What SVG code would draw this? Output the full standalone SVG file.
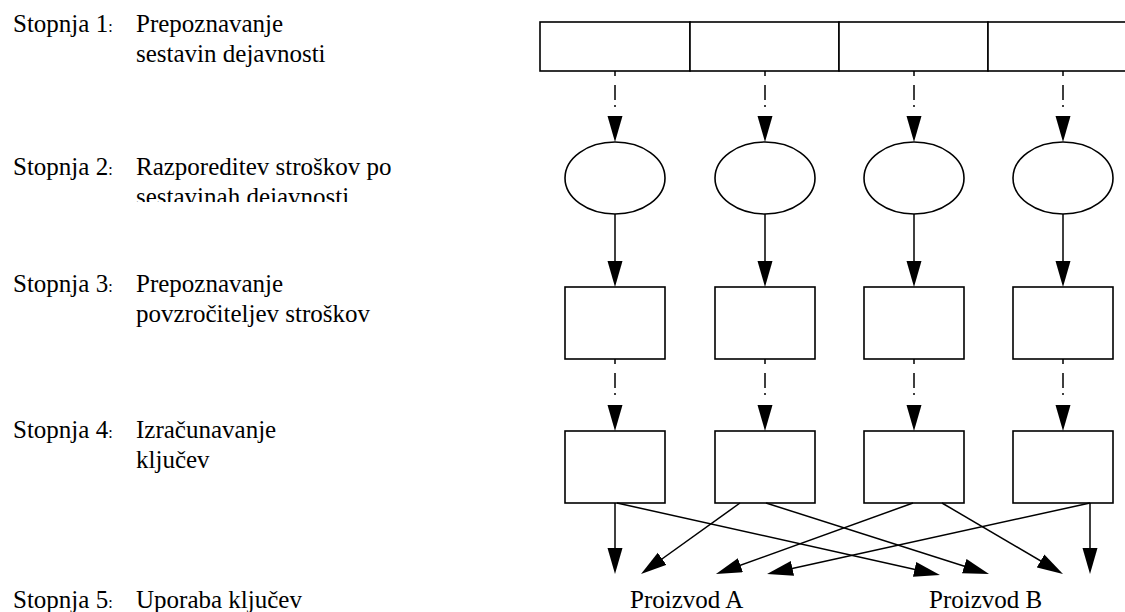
<svg xmlns="http://www.w3.org/2000/svg" width="1125" height="612" viewBox="0 0 1125 612">
<defs>
<style>
text{font-family:"Liberation Serif",Tinos,"Times New Roman",Times,serif;font-size:25px;fill:#000}
.c{font-size:16px}
.n{fill:#fff;stroke:#000;stroke-width:1.6}
.e{stroke:#000;stroke-width:1.5;fill:none}
.dd{stroke-dasharray:5 9 15 5 2 100}
</style>
<marker id="ah" markerUnits="userSpaceOnUse" markerWidth="28" markerHeight="16" refX="20" refY="7.5" orient="auto" viewBox="0 0 28 16">
<path d="M0,0 L26,7.5 L0,15 z" fill="#000"/>
</marker>
<clipPath id="clip2"><rect x="0" y="150" width="500" height="52"/></clipPath>
</defs>
<rect width="1125" height="612" fill="#fff"/>
<g id="labels" font-family="Liberation Serif, Tinos, Times New Roman, serif" font-size="25">
<text x="13" y="32">Stopnja 1<tspan class="c">:</tspan></text>
<text x="136" y="32">Prepoznavanje</text>
<text x="136" y="62">sestavin dejavnosti</text>
<text x="13" y="175">Stopnja 2<tspan class="c">:</tspan></text>
<g clip-path="url(#clip2)">
<text x="136" y="175">Razporeditev stroškov po</text>
<text x="136" y="205">sestavinah dejavnosti</text>
</g>
<text x="13" y="292">Stopnja 3<tspan class="c">:</tspan></text>
<text x="136" y="292">Prepoznavanje</text>
<text x="136" y="322">povzročiteljev stroškov</text>
<text x="13" y="438">Stopnja 4<tspan class="c">:</tspan></text>
<text x="136" y="438">Izračunavanje</text>
<text x="136" y="468">ključev</text>
<text x="13" y="608">Stopnja 5<tspan class="c">:</tspan></text>
<text x="136" y="608">Uporaba ključev</text>
</g>
<g id="activities">
<rect class="n" x="540" y="22" width="150" height="49"/>
<rect class="n" x="690" y="22" width="149" height="49"/>
<rect class="n" x="839" y="22" width="149" height="49"/>
<rect class="n" x="988" y="22" width="150" height="49"/>
</g>
<g id="pools">
<ellipse class="n" cx="615" cy="178" rx="50" ry="36"/>
<ellipse class="n" cx="765" cy="178" rx="50" ry="36"/>
<ellipse class="n" cx="914" cy="178" rx="50" ry="36"/>
<ellipse class="n" cx="1063" cy="178" rx="50" ry="36"/>
</g>
<g id="drivers">
<rect class="n" x="565" y="287" width="100" height="72"/>
<rect class="n" x="715" y="287" width="100" height="72"/>
<rect class="n" x="864" y="287" width="100" height="72"/>
<rect class="n" x="1013" y="287" width="100" height="72"/>
</g>
<g id="keys">
<rect class="n" x="565" y="431" width="100" height="72"/>
<rect class="n" x="715" y="431" width="100" height="72"/>
<rect class="n" x="864" y="431" width="100" height="72"/>
<rect class="n" x="1013" y="431" width="100" height="72"/>
</g>
<g id="products" font-family="Liberation Serif, Tinos, Times New Roman, serif" font-size="25">
<text x="630" y="608">Proizvod A</text>
<text x="929" y="608">Proizvod B</text>
</g>
<g id="connectors">
<line class="e dd" x1="615" y1="71" x2="615" y2="136" marker-end="url(#ah)"/>
<line class="e dd" x1="765" y1="71" x2="765" y2="136" marker-end="url(#ah)"/>
<line class="e dd" x1="914" y1="71" x2="914" y2="136" marker-end="url(#ah)"/>
<line class="e dd" x1="1063" y1="71" x2="1063" y2="136" marker-end="url(#ah)"/>
<line class="e" x1="615" y1="214" x2="615" y2="281" marker-end="url(#ah)"/>
<line class="e" x1="765" y1="214" x2="765" y2="281" marker-end="url(#ah)"/>
<line class="e" x1="914" y1="214" x2="914" y2="281" marker-end="url(#ah)"/>
<line class="e" x1="1063" y1="214" x2="1063" y2="281" marker-end="url(#ah)"/>
<line class="e dd" x1="615" y1="359" x2="615" y2="425" marker-end="url(#ah)"/>
<line class="e dd" x1="765" y1="359" x2="765" y2="425" marker-end="url(#ah)"/>
<line class="e dd" x1="914" y1="359" x2="914" y2="425" marker-end="url(#ah)"/>
<line class="e dd" x1="1063" y1="359" x2="1063" y2="425" marker-end="url(#ah)"/>
<line class="e" x1="615" y1="503" x2="615" y2="568" marker-end="url(#ah)"/>
<line class="e" x1="617" y1="503" x2="934.1" y2="573.7" marker-end="url(#ah)"/>
<line class="e" x1="740" y1="503" x2="645.9" y2="570.5" marker-end="url(#ah)"/>
<line class="e" x1="766" y1="503" x2="983.3" y2="572.2" marker-end="url(#ah)"/>
<line class="e" x1="913" y1="503" x2="721.6" y2="572" marker-end="url(#ah)"/>
<line class="e" x1="942" y1="503" x2="1057.8" y2="571" marker-end="url(#ah)"/>
<line class="e" x1="1090" y1="503" x2="772.9" y2="572.7" marker-end="url(#ah)"/>
<line class="e" x1="1090" y1="503" x2="1090" y2="568" marker-end="url(#ah)"/>
</g>
</svg>
